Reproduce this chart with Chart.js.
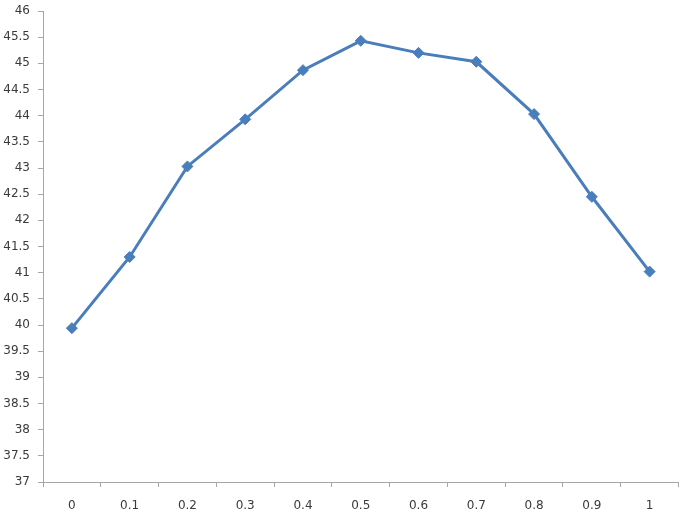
<!DOCTYPE html>
<html>
<head>
<meta charset="utf-8">
<script src="https://cdn.jsdelivr.net/npm/chart.js@4/dist/chart.umd.min.js"></script>
<style>
  body { margin: 0; background: #fff; }
</style>
</head>
<body>
<canvas id="myChart" width="685" height="517"></canvas>
<script>
var labels = ["0", "0.1", "0.2", "0.3", "0.4", "0.5", "0.6", "0.7", "0.8", "0.9", "1"];
var values = [39.94, 41.3, 43.03, 43.93, 44.87, 45.43, 45.2, 45.03, 44.03, 42.45, 41.02];
var yMin = 37;
var yMax = 46;
var yStep = 0.5;

var lineColor = "#4a7ebb";
var axisColor = "#a6a6a6";
var textColor = "#3a3a3a";

var ctx = document.getElementById('myChart').getContext('2d');
var chart = new Chart(ctx, {
  type: 'line',
  data: {
    labels: labels,
    datasets: [{
      data: values,
      borderColor: lineColor,
      backgroundColor: lineColor,
      borderWidth: 3,
      tension: 0,
      pointStyle: 'rectRot',
      pointRadius: 5.5,
      pointBorderWidth: 1,
      fill: false
    }]
  },
  options: {
    responsive: false,
    animation: false,
    layout: { padding: { top: 11, right: 4, left: 0, bottom: 0 } },
    plugins: {
      legend: { display: false },
      tooltip: { enabled: false }
    },
    scales: {
      x: {
        offset: true,
        grid: { display: true, drawOnChartArea: false, color: axisColor, tickLength: 5, offset: true },
        border: { color: axisColor, width: 1 },
        ticks: { color: textColor, font: { family: "DejaVu Sans", size: 12 }, padding: 12, maxRotation: 0 },
        afterFit: function(scale) {
          scale.height = 35;
          scale.paddingLeft = 0;
          scale.paddingRight = 0;
        }
      },
      y: {
        min: yMin,
        max: yMax,
        grid: { display: true, drawOnChartArea: false, color: axisColor, tickLength: 5 },
        border: { color: axisColor, width: 1 },
        ticks: {
          stepSize: yStep,
          color: textColor,
          font: { family: "DejaVu Sans", size: 12 },
          padding: 8,
          callback: function(v) { return String(v); }
        },
        afterFit: function(scale) {
          scale.width = 43;
          scale.paddingTop = 0;
          scale.paddingBottom = 0;
        }
      }
    }
  }
});
</script>
</body>
</html>
